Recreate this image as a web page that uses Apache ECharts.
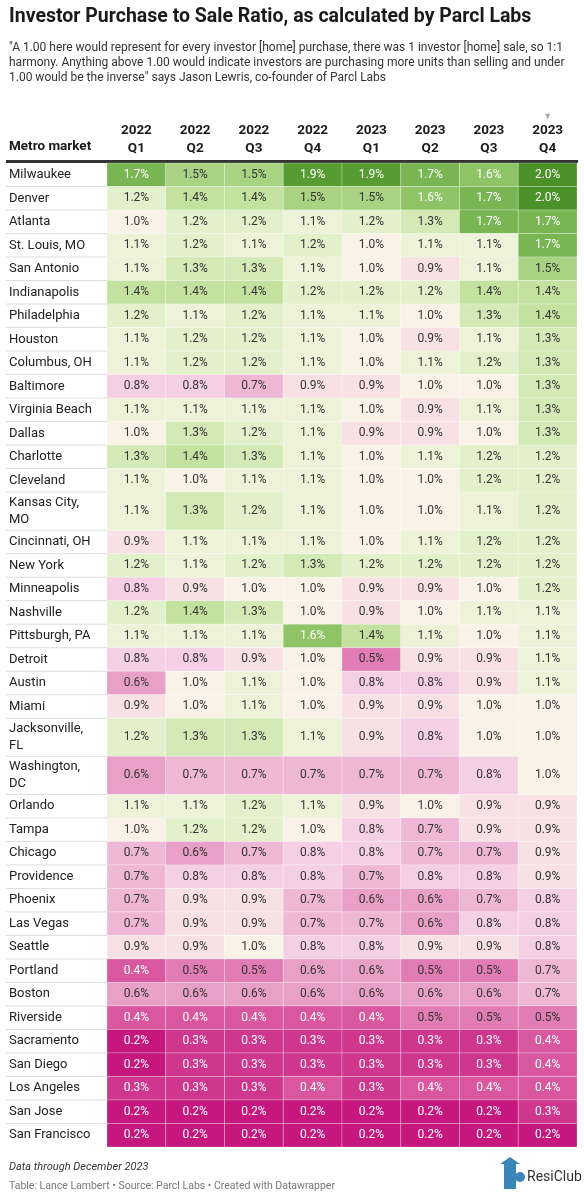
<!DOCTYPE html>
<html><head><meta charset="utf-8">
<script src="https://cdn.jsdelivr.net/npm/echarts@6/dist/echarts.min.js"></script>
<style>html,body{margin:0;padding:0;background:#fff}#c{width:584px;height:1200px}</style>
</head><body><div id="c"></div>
<script>
const columns = ['2022\nQ1','2022\nQ2','2022\nQ3','2022\nQ4','2023\nQ1','2023\nQ2','2023\nQ3','2023\nQ4'];
const metros = ['Milwaukee','Denver','Atlanta','St. Louis, MO','San Antonio','Indianapolis','Philadelphia','Houston','Columbus, OH','Baltimore','Virginia Beach','Dallas','Charlotte','Cleveland','Kansas City,\nMO','Cincinnati, OH','New York','Minneapolis','Nashville','Pittsburgh, PA','Detroit','Austin','Miami','Jacksonville,\nFL','Washington,\nDC','Orlando','Tampa','Chicago','Providence','Phoenix','Las Vegas','Seattle','Portland','Boston','Riverside','Sacramento','San Diego','Los Angeles','San Jose','San Francisco'];
const ratios = [
[1.7,1.5,1.5,1.9,1.9,1.7,1.6,2.0],
[1.2,1.4,1.4,1.5,1.5,1.6,1.7,2.0],
[1.0,1.2,1.2,1.1,1.2,1.3,1.7,1.7],
[1.1,1.2,1.1,1.2,1.0,1.1,1.1,1.7],
[1.1,1.3,1.3,1.1,1.0,0.9,1.1,1.5],
[1.4,1.4,1.4,1.2,1.2,1.2,1.4,1.4],
[1.2,1.1,1.2,1.1,1.1,1.0,1.3,1.4],
[1.1,1.2,1.2,1.1,1.0,0.9,1.1,1.3],
[1.1,1.2,1.2,1.1,1.0,1.1,1.2,1.3],
[0.8,0.8,0.7,0.9,0.9,1.0,1.0,1.3],
[1.1,1.1,1.1,1.1,1.0,0.9,1.1,1.3],
[1.0,1.3,1.2,1.1,0.9,0.9,1.0,1.3],
[1.3,1.4,1.3,1.1,1.0,1.1,1.2,1.2],
[1.1,1.0,1.1,1.1,1.0,1.0,1.2,1.2],
[1.1,1.3,1.2,1.1,1.0,1.0,1.1,1.2],
[0.9,1.1,1.1,1.1,1.0,1.1,1.2,1.2],
[1.2,1.1,1.2,1.3,1.2,1.2,1.2,1.2],
[0.8,0.9,1.0,1.0,0.9,0.9,1.0,1.2],
[1.2,1.4,1.3,1.0,0.9,1.0,1.1,1.1],
[1.1,1.1,1.1,1.6,1.4,1.1,1.0,1.1],
[0.8,0.8,0.9,1.0,0.5,0.9,0.9,1.1],
[0.6,1.0,1.1,1.0,0.8,0.8,0.9,1.1],
[0.9,1.0,1.1,1.0,0.9,0.9,1.0,1.0],
[1.2,1.3,1.3,1.1,0.9,0.8,1.0,1.0],
[0.6,0.7,0.7,0.7,0.7,0.7,0.8,1.0],
[1.1,1.1,1.2,1.1,0.9,1.0,0.9,0.9],
[1.0,1.2,1.2,1.0,0.8,0.7,0.9,0.9],
[0.7,0.6,0.7,0.8,0.8,0.7,0.7,0.9],
[0.7,0.8,0.8,0.8,0.7,0.8,0.8,0.9],
[0.7,0.9,0.9,0.7,0.6,0.6,0.7,0.8],
[0.7,0.9,0.9,0.7,0.7,0.6,0.8,0.8],
[0.9,0.9,1.0,0.8,0.8,0.9,0.9,0.8],
[0.4,0.5,0.5,0.6,0.6,0.5,0.5,0.7],
[0.6,0.6,0.6,0.6,0.6,0.6,0.6,0.7],
[0.4,0.4,0.4,0.4,0.4,0.5,0.5,0.5],
[0.2,0.3,0.3,0.3,0.3,0.3,0.3,0.4],
[0.2,0.3,0.3,0.3,0.3,0.3,0.3,0.4],
[0.3,0.3,0.3,0.4,0.3,0.4,0.4,0.4],
[0.2,0.2,0.2,0.2,0.2,0.2,0.2,0.3],
[0.2,0.2,0.2,0.2,0.2,0.2,0.2,0.2]
];

const starts = []; const heights = []; let acc = 0;
metros.forEach(m => { const h = m.includes('\n') ? 1.62 : 1; starts.push(acc); heights.push(h); acc += h; });
const total = acc;

const cellData = [];
ratios.forEach((row, r) => row.forEach((v, c) => cellData.push([c, starts[r], heights[r], v])));
const labelData = metros.map((m, r) => [starts[r], heights[r], m]);

const chart = echarts.init(document.getElementById('c'), null, {renderer:'canvas'});
const F = 'Roboto, "Noto Sans", sans-serif';
const grid = {left:107, right:7, top:163, bottom:53};
const colW = (584 - 107 - 7) / 8;

const graphics = [
 {type:'text', left:9, top:7, style:{text:'Investor Purchase to Sale Ratio, as calculated by Parcl Labs', font:'bold 19.5px '+F, fill:'#1a1a1a'}},
 {type:'text', left:9, top:40, style:{text:'"A 1.00 here would represent for every investor [home] purchase, there was 1 investor [home] sale, so 1:1\nharmony. Anything above 1.00 would indicate investors are purchasing more units than selling and under\n1.00 would be the inverse" says Jason Lewris, co-founder of Parcl Labs', font:'12px '+F, fill:'#333', lineHeight:15}},
 {type:'text', left:9, top:140, style:{text:'Metro market', font:'bold 13.5px '+F, fill:'#1a1a1a'}},
 {type:'text', x:107 + 7.5*colW, y:112, style:{text:'▼', font:'9px '+F, fill:'#aaa', align:'center'}},
 {type:'rect', shape:{x:6, y:160, width:572, height:3}, style:{fill:'#333'}},
 {type:'text', left:9, top:1162, style:{text:'Data through December 2023', font:'italic 11px '+F, fill:'#333'}},
 {type:'text', left:9, top:1181, style:{text:'Table: Lance Lambert • Source: Parcl Labs • Created with Datawrapper', font:'10.5px '+F, fill:'#777'}},
 {type:'text', left:527, top:1170, style:{text:'ResiClub', font:'14px '+F, fill:'#333'}},
 {type:'polygon', shape:{points:[[500,1164],[510,1157],[520,1164],[516,1164],[516,1189],[504,1189],[504,1164]]}, style:{fill:'#3a86b8'}},
 {type:'circle', shape:{cx:520, cy:1177, r:5}, style:{fill:'#3a86b8'}}
];
columns.forEach((c, i) => {
  graphics.push({type:'text', x:107 + (i+0.5)*colW, y:122, style:{text:c, font:'bold 13.5px '+F, fill:'#1a1a1a', align:'center', lineHeight:18}});
});

chart.setOption({
  animation:false,
  grid,
  xAxis:{type:'value', min:0, max:8, show:false},
  yAxis:{type:'value', min:0, max:total, inverse:true, show:false},
  visualMap:{show:false, type:'continuous', min:0.2, max:2.0, dimension:3, seriesIndex:0,
    inRange:{color:['#c5177d','#d8579f','#e9a0c8','#f5cfe3','#f8f3e6','#e2f0cc','#c3e2a0','#8fc466','#63a63e','#4a9128']}},
  graphic:graphics,
  series:[
   {type:'custom', data:cellData, encode:{x:0,y:1},
    renderItem:(p, api) => {
      const c = api.value(0), y0 = api.value(1), h = api.value(2), v = api.value(3);
      const a = api.coord([c, y0]), b = api.coord([c+1, y0+h]);
      const dark = v <= 0.4 || v >= 1.6;
      return {type:'group', children:[
        {type:'rect', shape:{x:a[0], y:a[1], width:b[0]-a[0], height:b[1]-a[1]}, style:{fill:api.visual('color'), stroke:'rgba(255,255,255,0.5)', lineWidth:0.5}},
        {type:'text', x:(a[0]+b[0])/2, y:(a[1]+b[1])/2, style:{text:v.toFixed(1)+'%', font:'12px '+F, fill:dark?'#fff':'#333', align:'center', verticalAlign:'middle'}}
      ]};
    }},
   {type:'custom', data:labelData, clip:false,
    renderItem:(p, api) => {
      const i = p.dataIndex; const d = labelData[i];
      const a = api.coord([0, d[0]]), b = api.coord([0, d[0]+d[1]]);
      const ch = [{type:'text', x:9, y:(a[1]+b[1])/2, style:{text:d[2], font:'13px '+F, fill:'#222', verticalAlign:'middle', lineHeight:17}}];
      if (i < labelData.length-1) ch.push({type:'line', shape:{x1:6, y1:b[1], x2:107, y2:b[1]}, style:{stroke:'#ddd', lineWidth:1}});
      return {type:'group', children:ch};
    }}
  ]
});
</script></body></html>
